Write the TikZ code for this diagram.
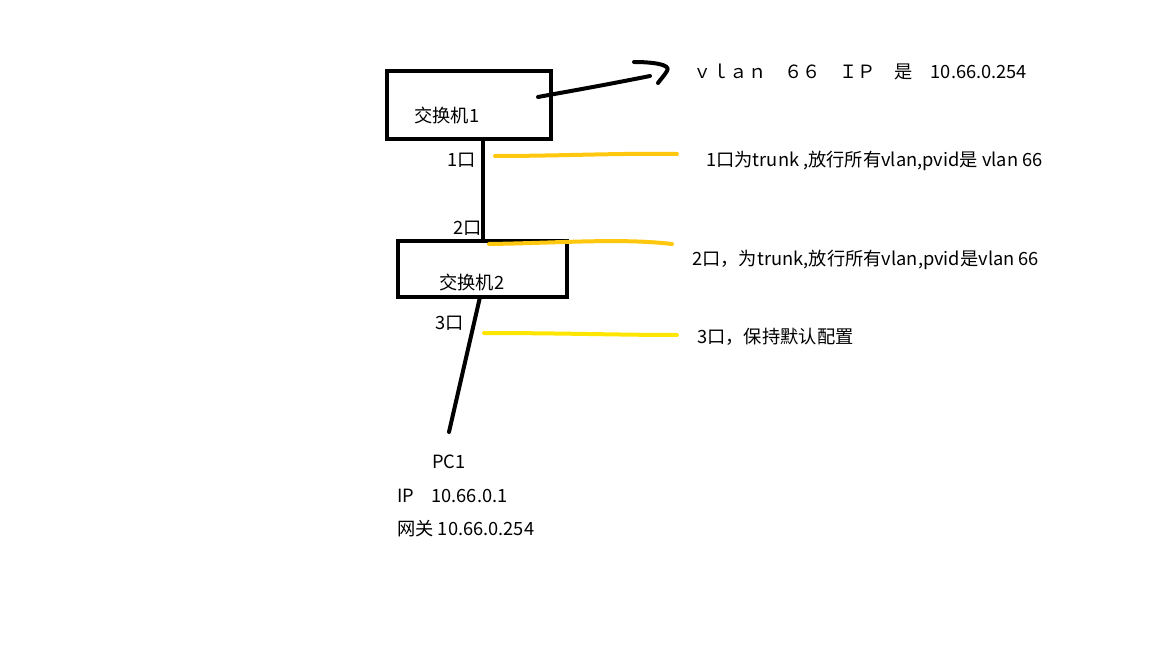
\documentclass[tikz,border=0pt]{standalone}
\usepackage{fontspec}
\setmainfont{Noto Sans CJK SC}
\begin{document}
\begin{tikzpicture}[x=0.75pt,y=-0.75pt,
  txt/.style={anchor=west,inner sep=0pt,font=\fontsize{13.7pt}{16pt}\selectfont},
  boxn/.style={draw=black,line width=3pt,inner sep=0pt},
  wire/.style={draw=black,line width=3pt},
  gold/.style={draw={rgb,255:red,255;green,200;blue,14},line width=3pt,line cap=round},
  yel/.style={draw={rgb,255:red,255;green,230;blue,0},line width=3pt,line cap=round},
  pen/.style={draw=black,line width=3pt,line cap=round,line join=round}]
\path[fill=white,use as bounding box] (0,0) rectangle (1152,648);
% switches
\node[boxn,minimum width=123pt,minimum height=51pt] (sw1) at (469,105) {};
\node[boxn,minimum width=126.75pt,minimum height=42pt] (sw2) at (482.5,269) {};
\node[txt] (l1) at (414,115) {交换机1};
\node[txt] (l2) at (439,282) {交换机2};
% ports
\node[txt] (p1) at (447,160) {1口};
\node[txt] (p2) at (453,228) {2口};
\node[txt] (p3) at (435,323) {3口};
% links
\coordinate (c12) at (483,200);
\draw[wire] (sw1.south -| c12) -- (sw2.north -| c12);
\coordinate (s2b) at (480,297);
\coordinate (pcend) at (449,432);
\draw[wire,line cap=round] (s2b) -- (pcend);
% arrow scribble
\coordinate (a0) at (538,97);
\coordinate (a1) at (650,76);
\coordinate (h0) at (634,62);
\coordinate (h1) at (658,83);
\draw[pen] (a0) .. controls (565,92) and (600,86) .. (a1);
\draw[pen] (h0) .. controls (650,62) and (672,64) .. (667,71) .. controls (664,76) and (660,80) .. (h1);
\node[txt] (vl) at (693,72) {ｖｌａｎ　６６　ＩＰ　是　10.66.0.254};
% yellow leaders
\coordinate (y1a) at (495,156);
\coordinate (y1b) at (677,154);
\draw[gold] (y1a) .. controls (560,156) and (620,153) .. (y1b);
\coordinate (y2a) at (489,244);
\coordinate (y2b) at (672,244);
\draw[gold] (y2a) .. controls (560,243) and (620,238) .. (y2b);
\coordinate (y3a) at (484,333);
\coordinate (y3b) at (677,335);
\draw[yel] (y3a) .. controls (560,333) and (620,335) .. (y3b);
% notes
\node[txt] (n1) at (706,161) {1口为trunk ,放行所有vlan,pvid是 vlan 66};
\node[txt] (n2) at (692,260) {2口，为trunk,放行所有vlan,pvid是vlan 66};
\node[txt] (n3) at (697,337) {3口，保持默认配置};
% PC
\node[txt] (pc) at (432,462) {PC1};
\node[txt] (ip) at (397,496) {IP\hspace{13pt}10.66.0.1};
\node[txt] (gw) at (397,529) {网关 10.66.0.254};
\end{tikzpicture}
\end{document}
